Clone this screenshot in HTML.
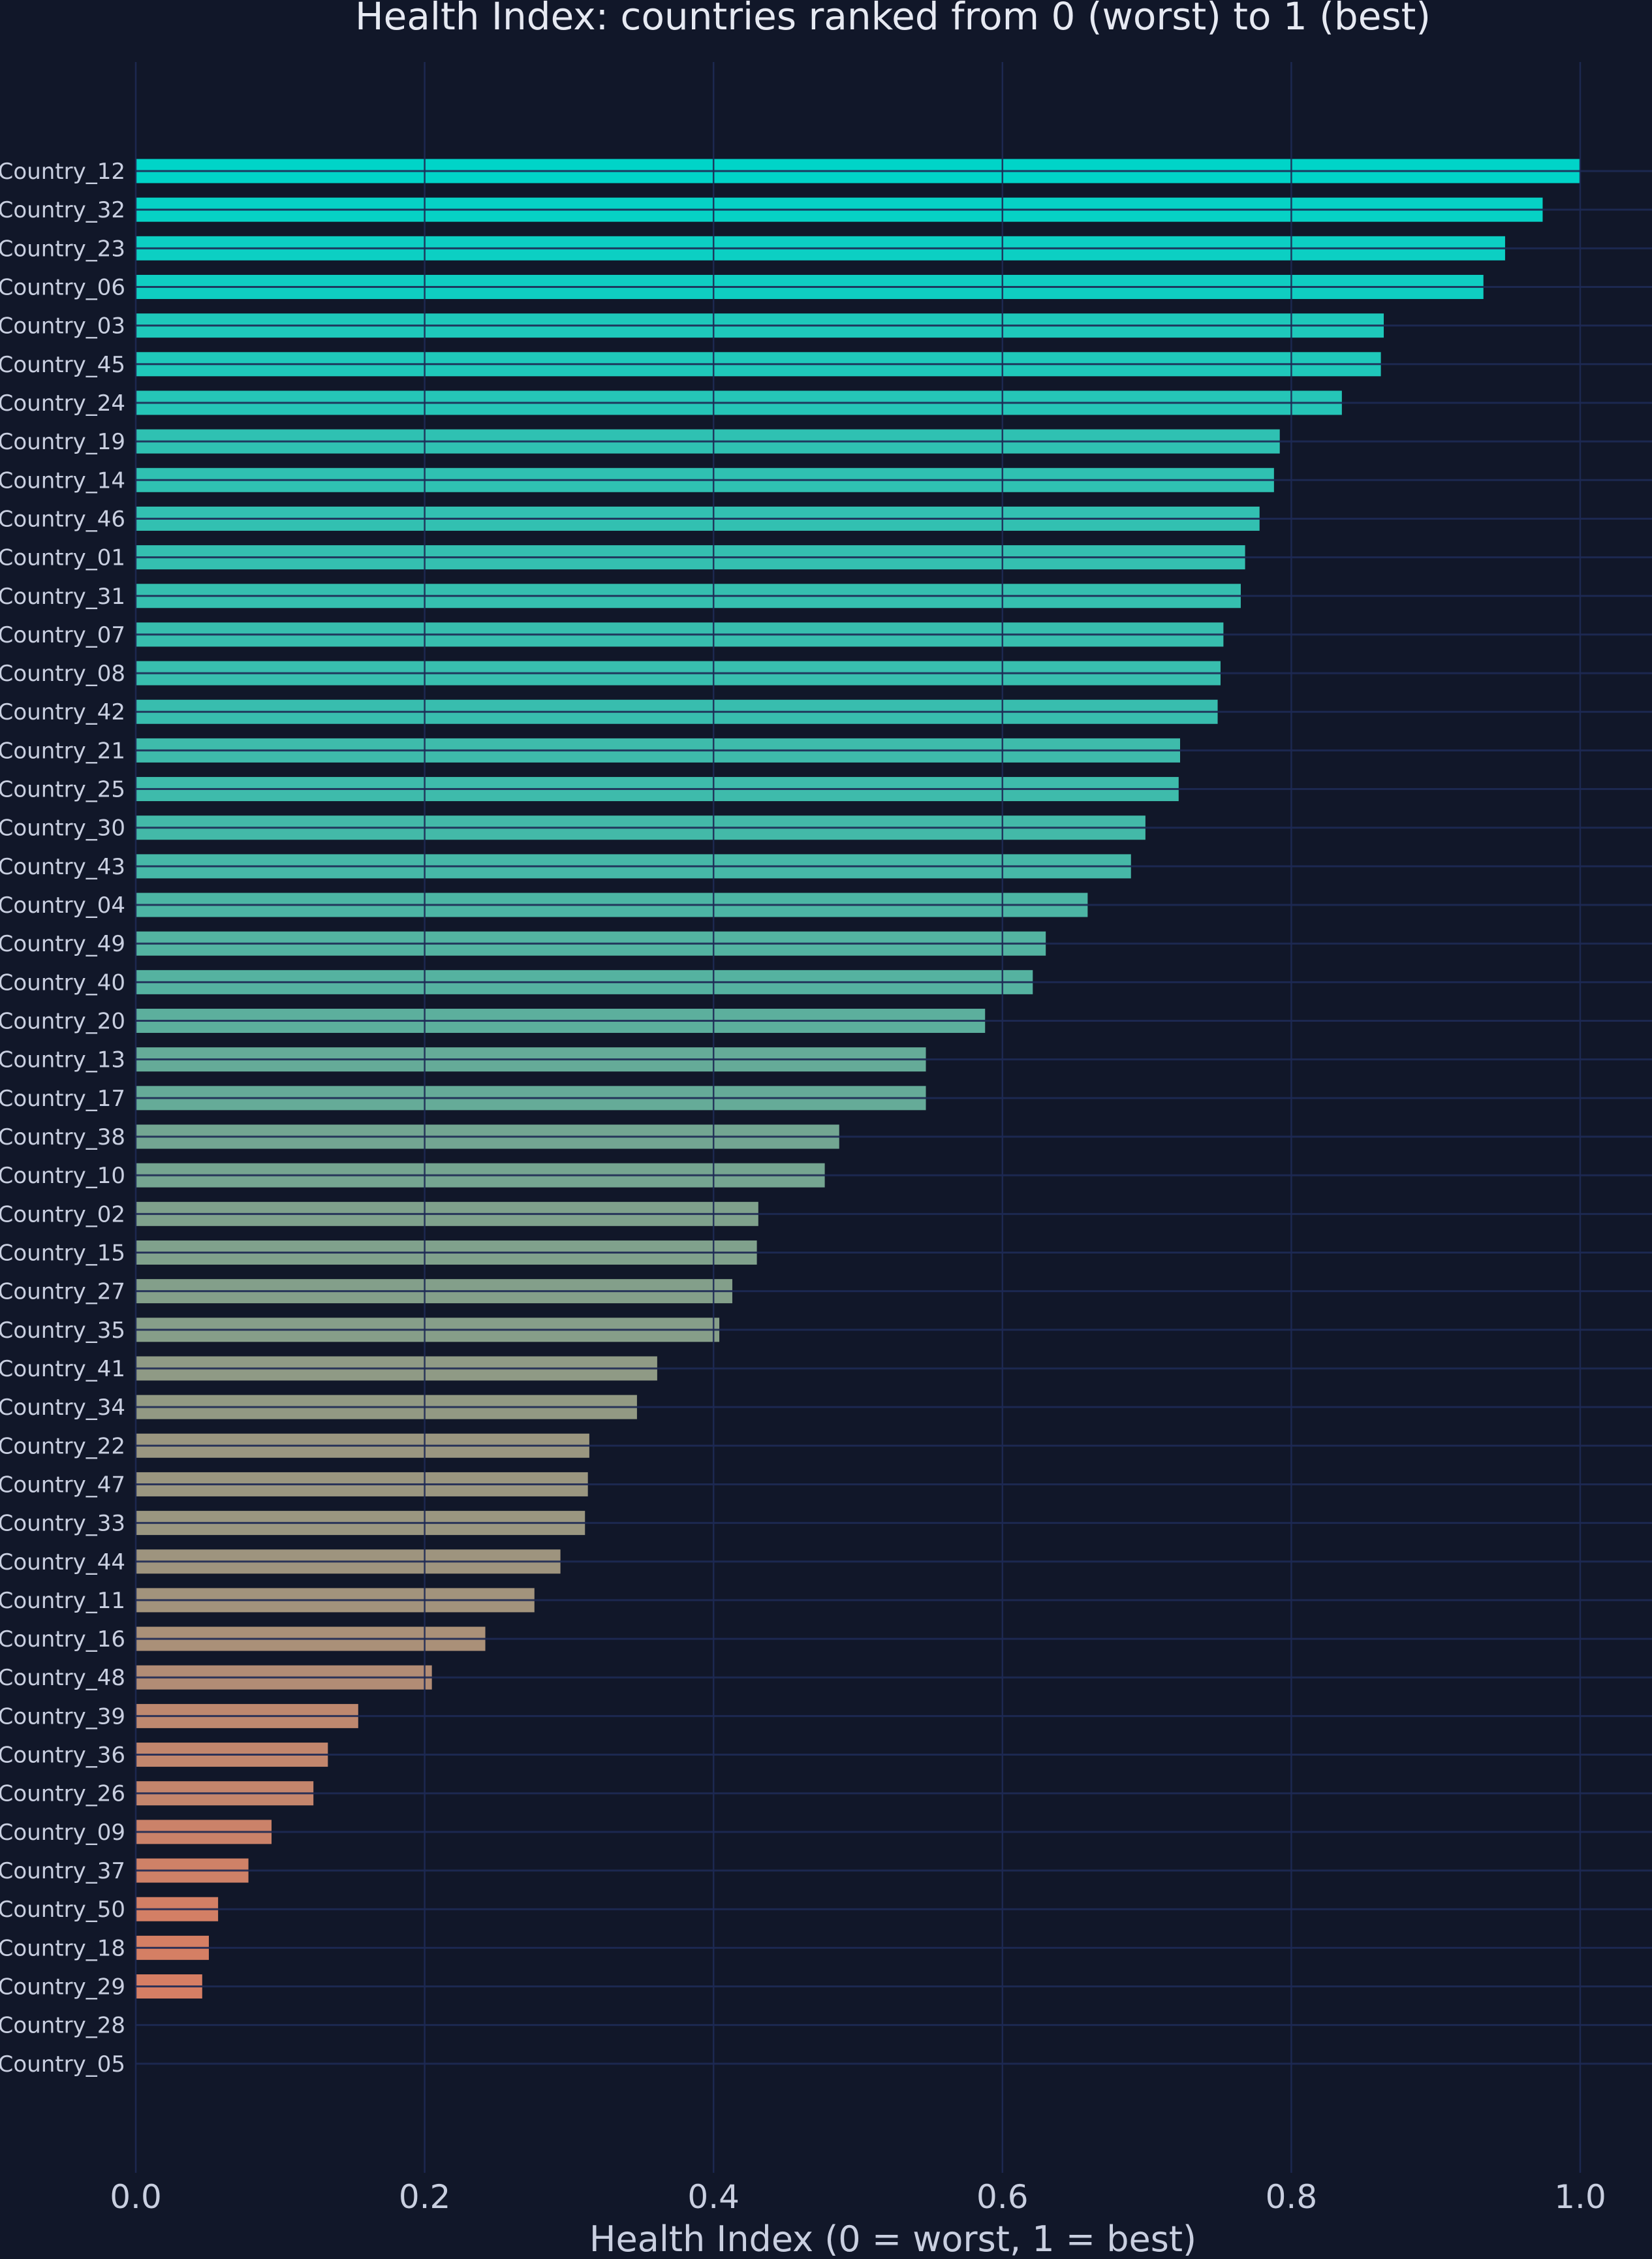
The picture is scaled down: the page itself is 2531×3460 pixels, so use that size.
<!DOCTYPE html>
<html><head><meta charset="utf-8"><style>
html,body{margin:0;padding:0;background:#111729;}
svg{display:block;}
text{font-family:"DejaVu Sans","Liberation Sans",sans-serif;}
</style></head><body>
<svg id="c" width="2531" height="3460" xmlns="http://www.w3.org/2000/svg">
<rect width="2531" height="3460" fill="#111729"/>
<text x="1368" y="45" font-size="58" fill="#e6e9f2" text-anchor="middle">Health Index: countries ranked from 0 (worst) to 1 (best)</text>
<text x="1368" y="3448" font-size="54" fill="#c9cfe0" text-anchor="middle">Health Index (0 = worst, 1 = best)</text>
</svg>
<script>
var d=[["12",1.0],["32",0.974],["23",0.948],["06",0.933],["03",0.864],["45",0.862],["24",0.835],["19",0.792],["14",0.788],["46",0.778],["01",0.768],["31",0.765],["07",0.753],["08",0.751],["42",0.749],["21",0.723],["25",0.722],["30",0.699],["43",0.689],["04",0.659],["49",0.630],["40",0.621],["20",0.588],["13",0.547],["17",0.547],["38",0.487],["10",0.477],["02",0.431],["15",0.430],["27",0.413],["35",0.404],["41",0.361],["34",0.347],["22",0.314],["47",0.313],["33",0.311],["44",0.294],["11",0.276],["16",0.242],["48",0.205],["39",0.154],["36",0.133],["26",0.123],["09",0.094],["37",0.078],["50",0.057],["18",0.0506],["29",0.046],["28",0],["05",0]];
var x0=208,W=2213,s="";
function col(v){var a=[224,122,95],b=[0,212,200];return "rgb("+a.map(function(q,i){return Math.round(q+(b[i]-q)*v)}).join(",")+")";}
d.forEach(function(r,i){var cy=262+i*59.16;
 if(r[1]>0) s+='<rect x="'+x0+'" y="'+(cy-18.5)+'" width="'+(r[1]*W)+'" height="37" fill="'+col(r[1])+'"/>';
 s+='<text x="192" y="'+(cy+12)+'" font-size="34" fill="#c9cfe0" text-anchor="end">Country_'+r[0]+'</text>';
});
d.forEach(function(r,i){var cy=262+i*59.16;
 s+='<line x1="'+x0+'" x2="2531" y1="'+cy+'" y2="'+cy+'" stroke="#1e2a55" stroke-width="3" opacity="0.9"/>';});
for(var k=0;k<=5;k++){var x=x0+k*W/5;
 s+='<line x1="'+x+'" x2="'+x+'" y1="95" y2="3328" stroke="#1e2a55" stroke-width="2.5" opacity="0.9"/>';
 s+='<text x="'+x+'" y="3382" font-size="50" fill="#c9cfe0" text-anchor="middle">'+(k*0.2).toFixed(1)+'</text>';}
document.getElementById("c").insertAdjacentHTML("beforeend",s);
</script>
</body></html>
